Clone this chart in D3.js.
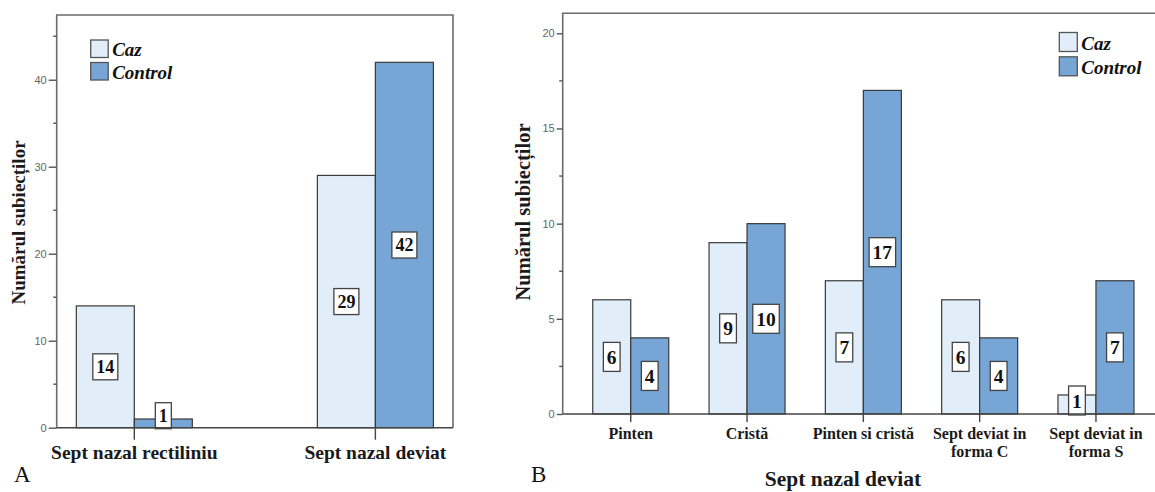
<!DOCTYPE html>
<html>
<head>
<meta charset="utf-8">
<script src="https://cdn.jsdelivr.net/npm/d3@7"></script>
<style>
  html, body { margin: 0; padding: 0; background: #fff; }
  svg { display: block; }
</style>
</head>
<body>
<svg id="chart" width="1155" height="492"></svg>
<script>
// Series shared by both panels
const series = ["Caz", "Control"];
const seriesColors = ["#e1edf9", "#76a5d6"];

// Panel A: straight vs deviated septum
const categoriesA = ["Sept nazal rectiliniu", "Sept nazal deviat"];
const cazA = [14, 29];
const controlA = [1, 42];
const ticksA = [0, 10, 20, 30, 40];

// Panel B: types of deviated septum
const categoriesB = ["Pinten", "Cristă", "Pinten si cristă", "Sept deviat in forma C", "Sept deviat in forma S"];
const cazB = [6, 9, 7, 6, 1];
const controlB = [4, 10, 17, 4, 7];
const ticksB = [0, 5, 10, 15, 20];

const yTitle = "Numărul subiecților";
const xTitleB = "Sept nazal deviat";

const svg = d3.select("#chart");
const SERIF = "'Liberation Serif', 'Times New Roman', serif";
const SANS = "'Liberation Sans', Arial, sans-serif";

function drawPanel(cfg) {
  const g = svg.append("g");
  const { left, right, top, bottom } = cfg.frame;

  const x = d3.scalePoint().domain(cfg.categories).range([left, cfg.rangeRight]).padding(cfg.padding);
  const y = d3.scaleLinear().domain([0, cfg.yMax]).range([bottom, top]);
  const sub = d3.scaleBand().domain(series).range([-cfg.barW, cfg.barW]);

  // frame (left, top, right)
  g.append("path")
    .attr("d", `M${left},${bottom}V${top}H${right}V${bottom}`)
    .attr("fill", "none").attr("stroke", "#6b6b6b").attr("stroke-width", 1.6);

  // y axis ticks: majors with labels, minors halfway
  const yAxis = d3.axisLeft(y).tickValues(cfg.ticks).tickSize(cfg.majorTick).tickPadding(2).tickFormat(d3.format("d"));
  const ya = g.append("g").attr("transform", `translate(${left},0)`).call(yAxis);
  ya.select(".domain").remove();
  ya.selectAll(".tick line").attr("stroke", "#555").attr("stroke-width", 1.4);
  ya.selectAll(".tick text").attr("fill", "#666").attr("font-family", SANS).attr("font-size", 11);

  const minors = d3.range(cfg.minorStep, cfg.yMax, cfg.minorStep).filter(v => !cfg.ticks.includes(v));
  g.append("g").selectAll("line").data(minors).join("line")
    .attr("x1", left - 3.5).attr("x2", left)
    .attr("y1", d => y(d)).attr("y2", d => y(d))
    .attr("stroke", "#555").attr("stroke-width", 1.4);

  // bars
  const rows = cfg.categories.map((c, i) => ({ cat: c, values: [cfg.caz[i], cfg.control[i]] }));
  const groups = g.append("g").selectAll("g").data(rows).join("g")
    .attr("transform", d => `translate(${x(d.cat)},0)`);

  groups.selectAll("rect").data(d => d.values.map((v, k) => ({ s: series[k], k, v }))).join("rect")
    .attr("x", d => sub(d.s))
    .attr("width", sub.bandwidth())
    .attr("y", d => y(d.v))
    .attr("height", d => y(0) - y(d.v))
    .attr("fill", d => seriesColors[d.k])
    .attr("stroke", "#3a3a3a").attr("stroke-width", 1.2);

  // baseline
  g.append("line")
    .attr("x1", left).attr("x2", right).attr("y1", bottom).attr("y2", bottom)
    .attr("stroke", "#444").attr("stroke-width", 1.6);

  // category ticks
  g.append("g").selectAll("line").data(cfg.categories).join("line")
    .attr("x1", d => x(d)).attr("x2", d => x(d))
    .attr("y1", bottom).attr("y2", bottom + cfg.catTick)
    .attr("stroke", "#444").attr("stroke-width", 1.4);

  // value labels in boxed tags at mid-height of each bar
  const lab = groups.selectAll("g.lab").data(d => d.values.map((v, k) => ({ s: series[k], k, v }))).join("g")
    .attr("class", "lab");
  lab.each(function (d) {
    const el = d3.select(this);
    const cx = sub(d.s) + sub.bandwidth() / 2;
    const h = cfg.boxH;
    const cy = Math.min((y(d.v) + y(0)) / 2, y(0) - h / 2 + 1);
    const rect = el.append("rect");
    const t = el.append("text")
      .attr("x", cx).attr("y", cy).attr("dy", "0.36em")
      .attr("text-anchor", "middle")
      .attr("font-family", SERIF).attr("font-weight", "bold")
      .attr("font-size", cfg.labelSize).attr("fill", "#111")
      .text(d.v);
    const w = t.node().getComputedTextLength() + 7;
    rect.attr("x", cx - w / 2).attr("y", cy - h / 2).attr("width", w).attr("height", h)
      .attr("fill", "#fff").attr("stroke", "#444").attr("stroke-width", 1.3);
  });

  // category labels (wrapped before "forma")
  const cl = g.append("g").selectAll("text").data(cfg.categories).join("text")
    .attr("x", d => x(d)).attr("y", cfg.catLabelY)
    .attr("text-anchor", "middle")
    .attr("font-family", SERIF).attr("font-weight", "bold")
    .attr("font-size", cfg.catSize).attr("fill", "#1a1a1a");
  cl.each(function (d) {
    const lines = cfg.wrap ? d.replace(" forma", "\nforma").split("\n") : [d];
    d3.select(this).selectAll("tspan").data(lines).join("tspan")
      .attr("x", x(d)).attr("dy", (l, i) => i === 0 ? 0 : cfg.catLine)
      .text(l => l);
  });

  // y title
  g.append("text")
    .attr("transform", `translate(${cfg.yTitleX},${cfg.yTitleY}) rotate(-90)`)
    .attr("text-anchor", "middle")
    .attr("font-family", SERIF).attr("font-weight", "bold")
    .attr("font-size", cfg.yTitleSize).attr("fill", "#1a1a1a")
    .text(yTitle);

  // legend
  const lg = g.append("g").attr("transform", `translate(${cfg.legend.x},${cfg.legend.y})`);
  const items = lg.selectAll("g").data(series).join("g")
    .attr("transform", (d, i) => `translate(0,${i * cfg.legend.gap})`);
  items.append("rect")
    .attr("width", cfg.legend.sw).attr("height", cfg.legend.sh)
    .attr("fill", (d, i) => seriesColors[i])
    .attr("stroke", "#555").attr("stroke-width", 1.3);
  items.append("text")
    .attr("x", cfg.legend.sw + 4).attr("y", cfg.legend.sh - 1.5)
    .attr("font-family", SERIF).attr("font-weight", "bold").attr("font-style", "italic")
    .attr("font-size", 19).attr("fill", "#111")
    .text(d => d);

  // panel letter
  g.append("text")
    .attr("x", cfg.letterX).attr("y", 482)
    .attr("font-family", SERIF).attr("font-size", 23).attr("fill", "#111")
    .text(cfg.letter);

  return { g, x, y };
}

drawPanel({
  categories: categoriesA, caz: cazA, control: controlA, ticks: ticksA,
  frame: { left: 56.7, right: 453, top: 15, bottom: 427.7 },
  rangeRight: 453, padding: 0.322, yMax: 47.44, minorStep: 5,
  barW: 58, majorTick: 8, catTick: 12, boxH: 26, labelSize: 18,
  catLabelY: 459, catSize: 19.5, catLine: 0, wrap: false,
  yTitleX: 25, yTitleY: 222.5, yTitleSize: 19,
  legend: { x: 90.7, y: 40, sw: 17.5, sh: 17.5, gap: 22.5 },
  letter: "A", letterX: 14
});

const panelB = drawPanel({
  categories: categoriesB, caz: cazB, control: controlB, ticks: ticksB,
  frame: { left: 562.7, right: 1170, top: 13.3, bottom: 414 },
  rangeRight: 1164, padding: 0.585, yMax: 21.05, minorStep: 2.5,
  barW: 38, majorTick: 6, catTick: 8, boxH: 29, labelSize: 19.5,
  catLabelY: 439, catSize: 16, catLine: 17.5, wrap: true,
  yTitleX: 530, yTitleY: 212, yTitleSize: 20.5,
  legend: { x: 1059.3, y: 32.5, sw: 18, sh: 19, gap: 24.3 },
  letter: "B", letterX: 531
});

// x title of panel B
panelB.g.append("text")
  .attr("x", 843).attr("y", 486)
  .attr("text-anchor", "middle")
  .attr("font-family", SERIF).attr("font-weight", "bold")
  .attr("font-size", 21.5).attr("fill", "#1a1a1a")
  .text(xTitleB);
</script>
</body>
</html>
